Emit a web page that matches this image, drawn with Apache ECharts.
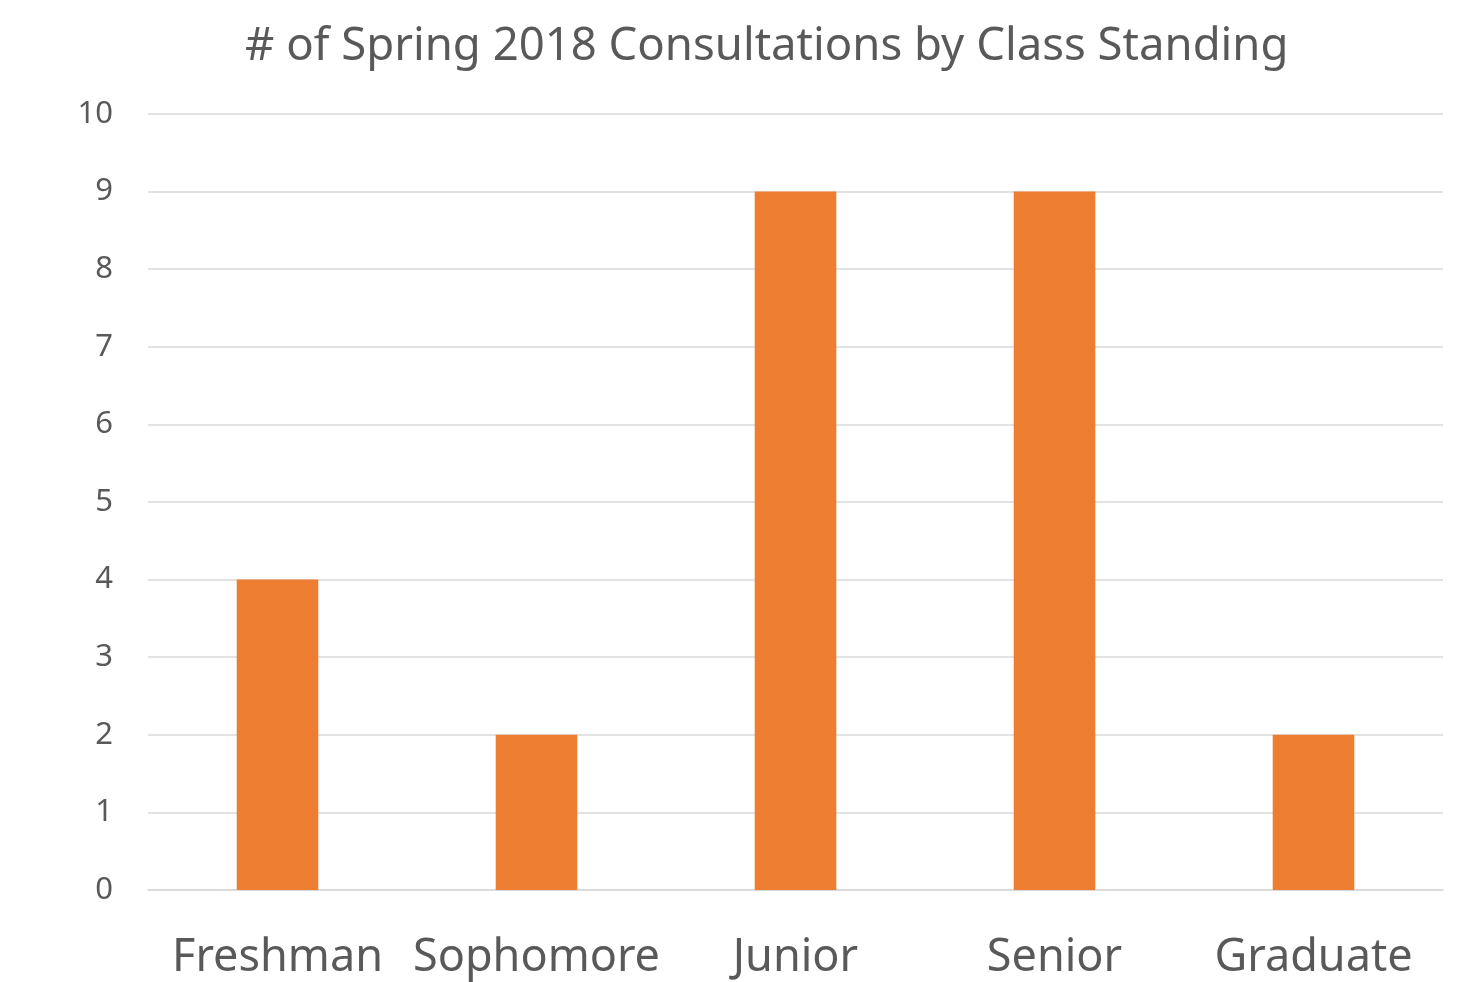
<!DOCTYPE html>
<html>
<head>
<meta charset="utf-8">
<script src="https://cdn.jsdelivr.net/npm/echarts@6/dist/echarts.min.js"></script>
<style>
  html, body { margin: 0; padding: 0; background: #fff; }
  #chart { width: 1474px; height: 982px; }
</style>
</head>
<body>
<div id="chart"></div>
<script>
// data
const categories = ['Freshman', 'Sophomore', 'Junior', 'Senior', 'Graduate'];
const consultations = [4, 2, 9, 9, 2];
const yTicks = { min: 0, max: 10, interval: 1 };

const chart = echarts.init(document.getElementById('chart'));

const option = {
  backgroundColor: '#ffffff',
  animation: false,
  title: {
    text: '# of Spring 2018 Consultations by Class Standing',
    left: 240,
    top: 19,
    textStyle: {
      fontFamily: 'Noto Sans',
      fontSize: 45.5,
      fontWeight: 'normal',
      color: '#595959'
    }
  },
  grid: {
    left: 148,
    right: 31,
    top: 114,
    bottom: 92,
    outerBoundsMode: 'none'
  },
  xAxis: {
    type: 'category',
    data: categories,
    axisLine: { lineStyle: { color: '#d9d9d9', width: 1.5 } },
    axisTick: { show: false },
    axisLabel: {
      fontFamily: 'Noto Sans',
      fontSize: 45,
      color: '#595959',
      margin: 46,
      interval: 0
    }
  },
  yAxis: {
    type: 'value',
    min: yTicks.min,
    max: yTicks.max,
    interval: yTicks.interval,
    axisLine: { show: false },
    axisTick: { show: false },
    splitLine: { lineStyle: { color: '#d9d9d9', width: 1.5 } },
    axisLabel: {
      fontFamily: 'Noto Sans',
      fontSize: 31,
      color: '#595959',
      margin: 35
    }
  },
  series: [
    {
      name: 'Consultations',
      type: 'bar',
      data: consultations,
      barWidth: '31.5%',
      itemStyle: { color: '#ED7D31' }
    }
  ]
};

chart.setOption(option);
</script>
</body>
</html>
